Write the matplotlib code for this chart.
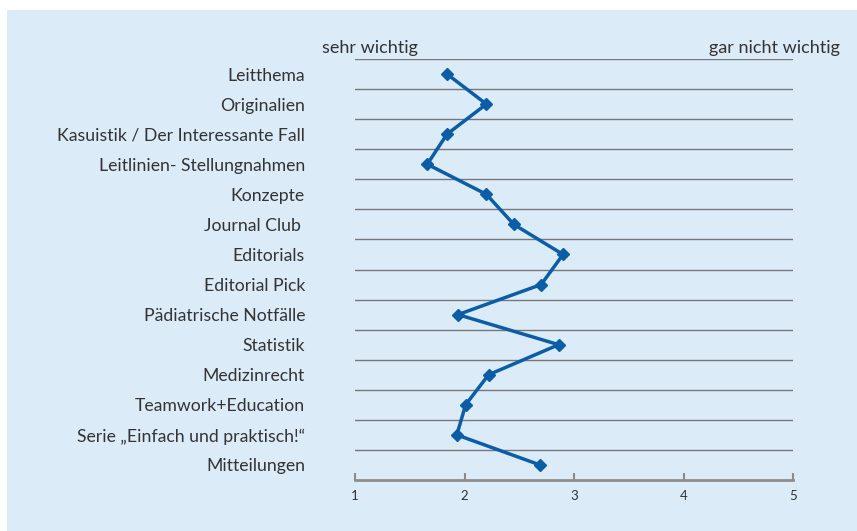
import matplotlib.pyplot as plt
from matplotlib.patches import Rectangle

plt.rcParams['font.family'] = ['Lato', 'DejaVu Sans']

kategorien = ["Leitthema", "Originalien", "Kasuistik / Der Interessante Fall",
              "Leitlinien- Stellungnahmen", "Konzepte", "Journal Club ",
              "Editorials", "Editorial Pick", "Pädiatrische Notfälle", "Statistik",
              "Medizinrecht", "Teamwork+Education", "Serie „Einfach und praktisch!“",
              "Mitteilungen"]
werte = [1.84, 2.20, 1.84, 1.66, 2.20, 2.45, 2.90, 2.70, 1.94, 2.86,
         2.22, 2.01, 1.93, 2.69]
x_ticks = [1, 2, 3, 4, 5]

textfarbe = '#333333'
linienfarbe = '#0c5da8'

fig = plt.figure(figsize=(8.57, 5.31), dpi=100)
fig.patch.set_facecolor('white')
fig.patches.append(Rectangle((7 / 857, 0), 1, 1 - 10 / 531, transform=fig.transFigure,
                             facecolor='#dcebf8', edgecolor='none', zorder=-10))

ax = fig.add_axes([355 / 857, 1 - 480 / 531, 438 / 857, 421 / 531])
ax.set_facecolor('none')

pos = list(range(len(kategorien)))
ax.plot(werte, pos, color=linienfarbe, lw=2.5, marker='D', markersize=6.5, zorder=3)

# horizontale Trennlinien zwischen den Kategorien
for k in range(len(kategorien)):
    ax.axhline(k - 0.5, color='#777777', lw=1, zorder=1)

ax.set_xlim(1, 5)
ax.set_ylim(len(kategorien) - 0.5, -0.5)
ax.set_yticks(pos)
ax.set_yticklabels(kategorien, fontsize=12.7, color=textfarbe)
ax.tick_params(axis='y', length=0, pad=36)
ax.set_xticks(x_ticks)
ax.set_xticklabels([str(t) for t in x_ticks], fontsize=9.5, color=textfarbe)
ax.tick_params(axis='x', direction='in', length=5, width=1.5, color='#8c8c8c', pad=7)

for s in ['top', 'left', 'right']:
    ax.spines[s].set_visible(False)
ax.spines['bottom'].set_color('#8c8c8c')
ax.spines['bottom'].set_linewidth(2)

fig.text(322 / 857, 1 - 48 / 531, "sehr wichtig", fontsize=13, color=textfarbe,
         ha='left', va='center')
fig.text(840 / 857, 1 - 48 / 531, "gar nicht wichtig", fontsize=13, color=textfarbe,
         ha='right', va='center')

fig.savefig('out.png', dpi=100, facecolor=fig.get_facecolor())
